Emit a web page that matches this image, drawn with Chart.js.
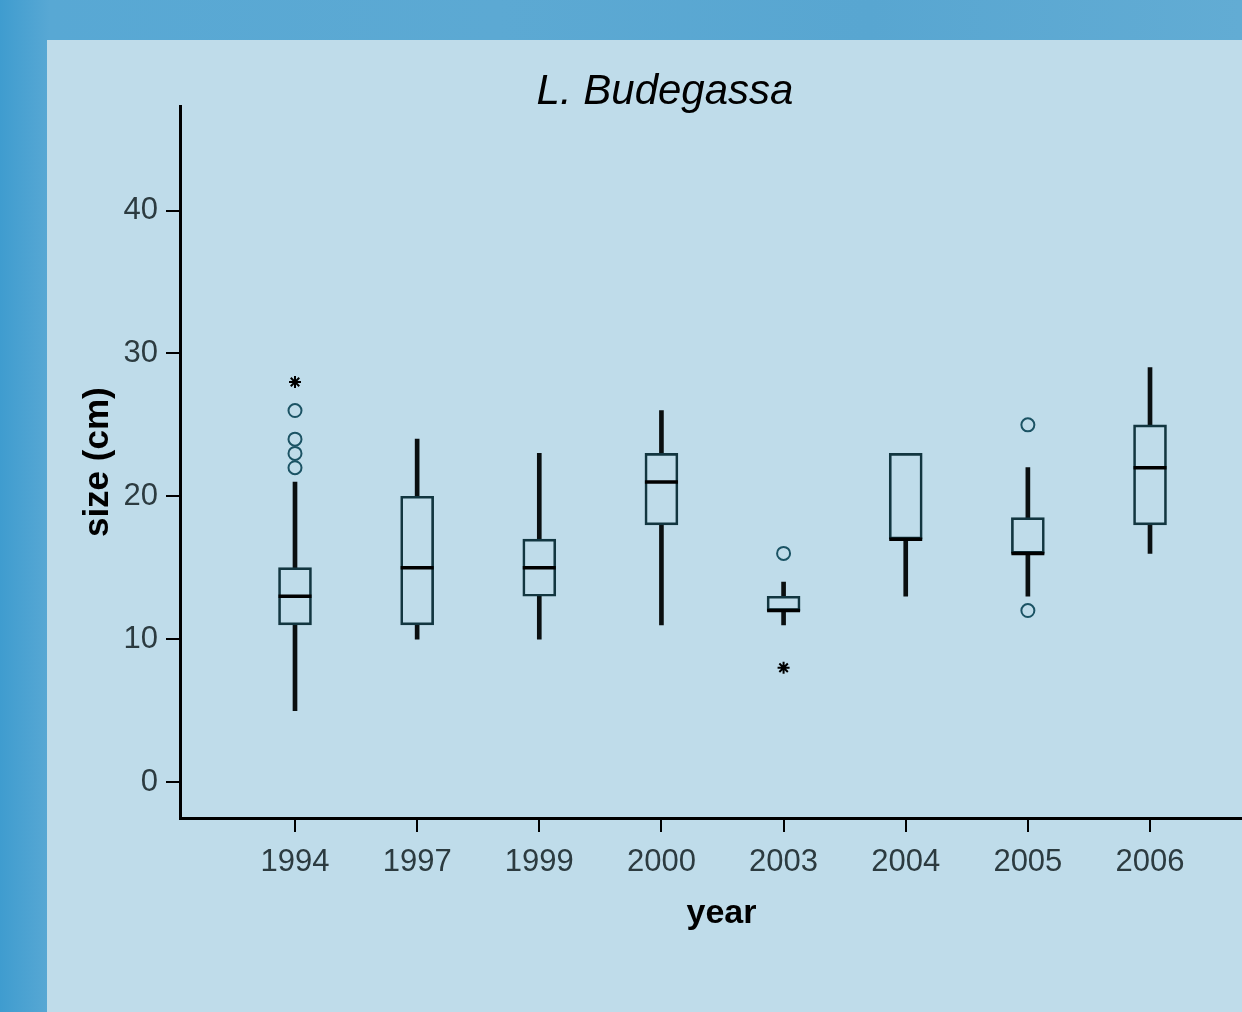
<!DOCTYPE html>
<html>
<head>
<meta charset="utf-8">
<script src="https://cdn.jsdelivr.net/npm/chart.js@4/dist/chart.umd.min.js"></script>
<style>
  html, body { margin: 0; padding: 0; width: 1242px; height: 1012px; overflow: hidden; }
  body { position: relative; background: linear-gradient(90deg, #3f9ccf 0%, #58a8d4 4%, #5ca9d3 40%, #58a6d1 70%, #62acd4 100%); }
  #panel { position: absolute; left: 47px; top: 40px; width: 1195px; height: 972px; background: #bfdcea; overflow: hidden; }
  #grafico { position: absolute; left: 0; top: 0; }
</style>
</head>
<body>
<div id="panel"><canvas id="grafico" width="1236" height="972"></canvas></div>
<script>
// Datos
const anios = ["1994", "1997", "1999", "2000", "2003", "2004", "2005", "2006"];
const bigoteInf = [5, 10, 10, 11, 11, 13, 13, 16];
const q1 = [11, 11, 13, 18, 12, 17, 16, 18];
const mediana = [13, 15, 15, 21, 12, 17, 16, 22];
const q3 = [15, 20, 17, 23, 13, 23, 18.5, 25];
const bigoteSup = [21, 24, 23, 26, 14, 23, 22, 29];
// atípicos (círculos) y extremos (asteriscos): [índice de año, valor]
const atipicos = [[0, 22], [0, 23], [0, 24], [0, 26], [4, 16], [6, 25], [6, 12]];
const extremos = [[0, 28], [4, 8]];
const marcasY = [0, 10, 20, 30, 40];

const tramos = (a, b) => a.map((v, i) => ({x: i, y: [v, b[i]]}));
const puntos = (lista) => lista.map(([i, v]) => ({x: i, y: v}));

const fuente = "'Liberation Sans', Arial, sans-serif";

const ctx = document.getElementById("grafico").getContext("2d");
new Chart(ctx, {
  type: "bar",
  data: {
    datasets: [
      {
        type: "bar",
        data: tramos(bigoteInf, q1),
        backgroundColor: "#0a0f10",
        borderWidth: 0,
        barThickness: 4,
        grouped: false,
        order: 4
      },
      {
        type: "bar",
        data: tramos(q3, bigoteSup),
        backgroundColor: "#0a0f10",
        borderWidth: 0,
        barThickness: 4,
        grouped: false,
        order: 4
      },
      {
        type: "bar",
        data: tramos(q1, q3),
        backgroundColor: "rgba(0,0,0,0)",
        borderColor: "#123640",
        borderWidth: 2,
        borderSkipped: false,
        barThickness: 33,
        grouped: false,
        order: 3
      },
      {
        type: "scatter",
        data: mediana.map((v, i) => ({x: i, y: v})),
        pointStyle: "line",
        pointRadius: 16.5,
        borderWidth: 3.5,
        borderColor: "#000",
        order: 1
      },
      {
        type: "scatter",
        data: puntos(atipicos),
        pointStyle: "circle",
        pointRadius: 6.5,
        borderWidth: 2,
        borderColor: "#1b5364",
        backgroundColor: "rgba(0,0,0,0)",
        order: 1
      },
      {
        type: "scatter",
        data: puntos(extremos),
        pointStyle: "star",
        pointRadius: 6,
        borderWidth: 2,
        borderColor: "#000",
        order: 1
      }
    ]
  },
  options: {
    responsive: false,
    animation: false,
    events: [],
    layout: { padding: { left: 0, right: 0, top: 0, bottom: 78 } },
    scales: {
      x: {
        type: "linear",
        offset: false,
        min: -0.9415,
        max: 7.925,
        afterBuildTicks: (eje) => { eje.ticks = anios.map((a, i) => ({value: i})); },
        ticks: {
          callback: (v) => anios[v],
          autoSkip: false,
          maxRotation: 0,
          padding: 12,
          color: "#2c3b40",
          font: { family: fuente, size: 31 }
        },
        grid: { offset: false, drawOnChartArea: false, drawTicks: true, tickLength: 14, color: "#000", lineWidth: 2 },
        border: { display: true, color: "#000", width: 3 },
        title: {
          display: true,
          text: "year",
          color: "#000",
          font: { family: fuente, size: 34, weight: "bold" },
          padding: { top: 0, bottom: 0 }
        }
      },
      y: {
        min: -2.52,
        max: 47.29,
        afterBuildTicks: (eje) => { eje.ticks = marcasY.map(v => ({value: v})); },
        afterFit: (eje) => { eje.width = 133; },
        ticks: {
          padding: 8,
          color: "#2c3b40",
          font: { family: fuente, size: 31 }
        },
        grid: { drawOnChartArea: false, drawTicks: true, tickLength: 14, color: "#000", lineWidth: 2 },
        border: { display: true, color: "#000", width: 3 },
        title: {
          display: true,
          text: "size (cm)",
          color: "#000",
          font: { family: fuente, size: 35, weight: "bold" },
          padding: { top: 30, bottom: 0 }
        }
      }
    },
    plugins: {
      legend: { display: false },
      tooltip: { enabled: false },
      title: {
        display: true,
        text: "L. Budegassa",
        color: "#000",
        font: { family: fuente, size: 42, style: "italic", weight: "normal", lineHeight: 1.2 },
        padding: { top: 27, bottom: -11 }
      }
    }
  }
});
</script>
</body>
</html>
